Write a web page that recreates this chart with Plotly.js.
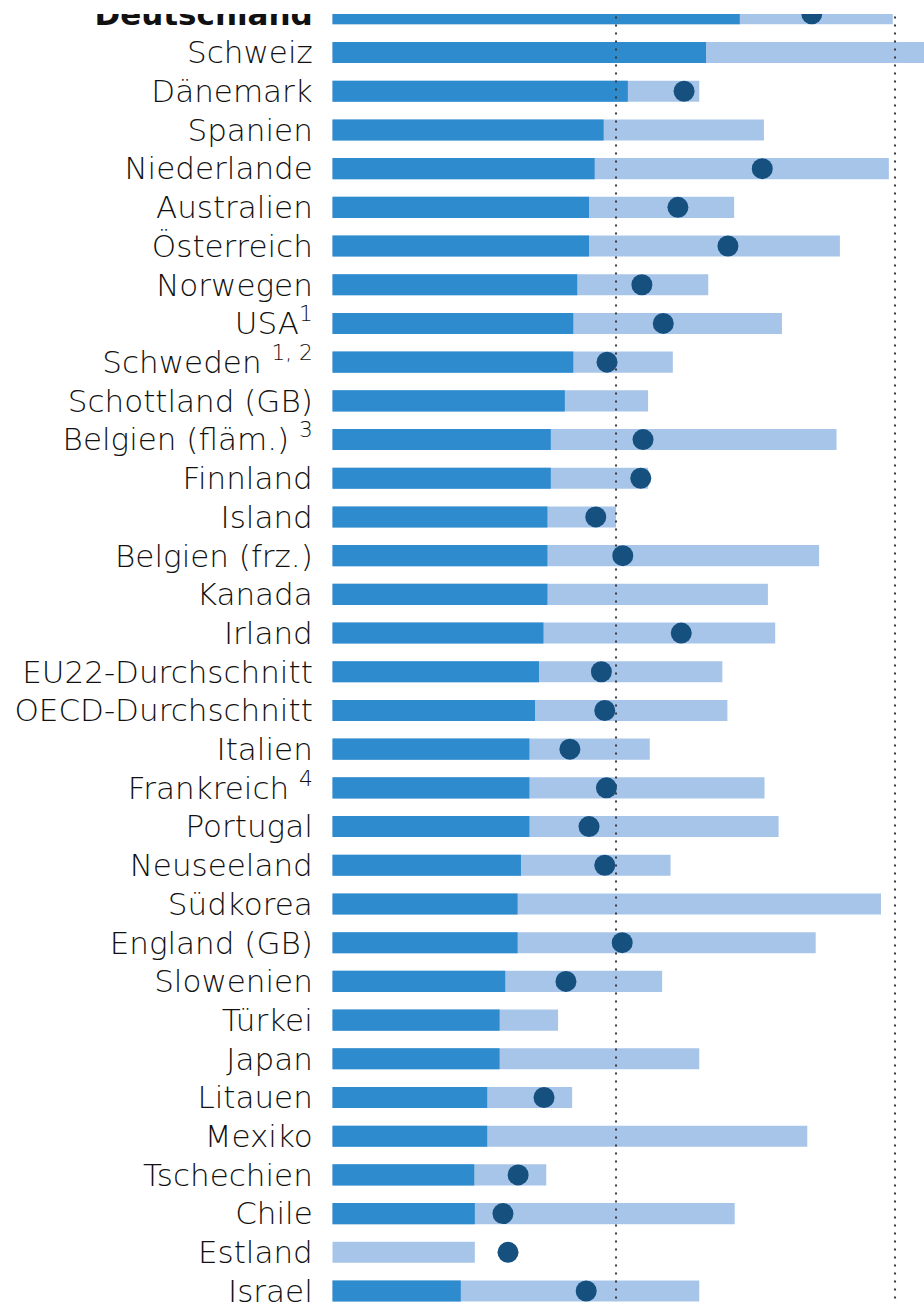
<!DOCTYPE html>
<html>
<head>
<meta charset="utf-8">
<script src="https://cdn.plot.ly/plotly-3.0.1.min.js"></script>
<style>html,body{margin:0;padding:0;background:#fff;}#chart{width:924px;height:1303px;}</style>
</head>
<body>
<div id="chart"></div>
<script>
const countries = [
  "<b>Deutschland</b>", "Schweiz", "Dänemark", "Spanien", "Niederlande", "Australien",
  "Österreich", "Norwegen", "USA<sup>1</sup>", "Schweden <sup>1, 2</sup>", "Schottland (GB)",
  "Belgien (fläm.) <sup>3</sup>", "Finnland", "Island", "Belgien (frz.)", "Kanada", "Irland",
  "EU22-Durchschnitt", "OECD-Durchschnitt", "Italien", "Frankreich <sup>4</sup>", "Portugal",
  "Neuseeland", "Südkorea", "England (GB)", "Slowenien", "Türkei", "Japan", "Litauen",
  "Mexiko", "Tschechien", "Chile", "Estland", "Israel"
];
// start values (dark bars)
const startVals = [72.4, 66.4, 52.5, 48.2, 46.6, 45.6, 45.6, 43.5, 42.8, 42.8, 41.3,
  38.8, 38.8, 38.2, 38.2, 38.2, 37.5, 36.7, 36.0, 35.0, 35.0, 35.0, 33.5, 32.9, 32.9,
  30.7, 29.7, 29.7, 27.5, 27.5, 25.2, 25.3, null, 22.8];
// maximum values (light bars)
const maxVals = [99.6, 110, 65.2, 76.7, 98.9, 71.4, 90.2, 66.8, 79.9, 60.5, 56.1,
  89.6, 56.1, 50.4, 86.5, 77.4, 78.7, 69.3, 70.2, 56.4, 76.8, 79.3, 60.1, 97.5, 85.9,
  58.6, 40.1, 65.2, 42.6, 84.4, 38.0, 71.5, 25.3, 65.2];
// dots
const dotVals = [85.2, null, 62.5, null, 76.4, 61.4, 70.3, 55.0, 58.8, 48.8, null,
  55.2, 54.8, 46.8, 51.6, null, 62.0, 47.8, 48.4, 42.2, 48.7, 45.6, 48.4, null, 51.5,
  41.5, null, null, 37.6, null, 33.0, 30.3, 31.2, 45.1];
// dotted reference lines
const refLines = [50.4, 100];

const idx = countries.map((_, i) => i);

const traces = [
  {type: 'bar', orientation: 'h', y: idx, x: maxVals, width: 0.545,
   marker: {color: '#a7c5e9'}, hoverinfo: 'skip', showlegend: false},
  {type: 'bar', orientation: 'h', y: idx, x: startVals, width: 0.545,
   marker: {color: '#2e8bcd'}, hoverinfo: 'skip', showlegend: false}
];
refLines.forEach(v => traces.push({
  type: 'scatter', mode: 'lines', x: [v, v], y: [-2, countries.length + 1],
  line: {color: '#3a3a3a', width: 2, dash: '2px,6px'}, hoverinfo: 'skip', showlegend: false
}));
traces.push({type: 'scatter', mode: 'markers', y: idx, x: dotVals,
  marker: {color: '#15507f', size: 21}, hoverinfo: 'skip', showlegend: false, cliponaxis: false});

const layout = {
  width: 924, height: 1303,
  margin: {l: 332, r: 0, t: 0, b: 0, pad: 0},
  paper_bgcolor: '#fff', plot_bgcolor: '#fff',
  barmode: 'overlay',
  showlegend: false,
  xaxis: {range: [-0.09, 105.15], showticklabels: false, showgrid: false, zeroline: false, showline: false, fixedrange: true},
  yaxis: {
    range: [33.31, -0.357], tickmode: 'array', tickvals: idx, ticktext: countries,
    showgrid: false, zeroline: false, showline: false,
    ticks: 'outside', ticklen: 12, tickcolor: 'rgba(0,0,0,0)',
    ticklabeloverflow: 'allow',
    tickfont: {family: 'DejaVu Sans', size: 31, color: '#111111', weight: 200}
  },
  shapes: [{type: 'rect', xref: 'paper', yref: 'paper', x0: -1, x1: 2, y0: 1 - 14 / 1303, y1: 1.2,
    fillcolor: '#ffffff', line: {width: 0}, layer: 'above'}]
};
Plotly.newPlot('chart', traces, layout, {staticPlot: true});
</script>
</body>
</html>
